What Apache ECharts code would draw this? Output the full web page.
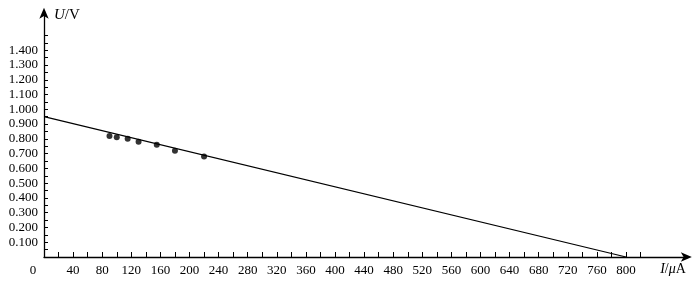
<!DOCTYPE html>
<html><head><meta charset="utf-8">
<script src="https://cdn.jsdelivr.net/npm/echarts@6/dist/echarts.min.js"></script>
<style>html,body{margin:0;padding:0;background:#fff}#c{width:700px;height:291px}</style>
</head><body><div id="c"></div>
<script>
// ---- data ----
const currents = [90, 100, 115, 130, 155, 180, 220];          // I / μA
const voltages = [0.82, 0.81, 0.80, 0.78, 0.76, 0.72, 0.68];  // U / V
const fitCurrents = [0, 800];
const fitVoltages = [0.95, 0];
const xTickLabels = [0, 40, 80, 120, 160, 200, 240, 280, 320, 360, 400, 440, 480, 520, 560, 600, 640, 680, 720, 760, 800];
const yTickLabels = ['0.100','0.200','0.300','0.400','0.500','0.600','0.700','0.800','0.900','1.000','1.100','1.200','1.300','1.400'];

// ---- layout ----
const L = 44, AXY = 257, W = 700, H = 291;
const PX = 582 / 800;     // px per μA
const PY = 147.7;         // px per V
const X0MAX = 885, Y0MAX = 1.66;   // axis-line extent (with arrows)
const X1MAX = 820, Y1MAX = 1.5;    // tick extent
const font = 'Liberation Serif';

const chart = echarts.init(document.getElementById('c'), null, {renderer: 'canvas'});
const scatterData = currents.map((c, i) => [c, voltages[i]]);
const lineData = fitCurrents.map((c, i) => [c, fitVoltages[i]]);

chart.setOption({
  backgroundColor: '#fff',
  animation: false,
  grid: [
    {left: L, bottom: H - AXY, width: X0MAX * PX, height: Y0MAX * PY},
    {left: L, bottom: H - AXY, width: X1MAX * PX, height: Y1MAX * PY}
  ],
  xAxis: [
    {
      type: 'value', gridIndex: 0, min: 0, max: X0MAX, interval: 20,
      axisLine: {show: true, symbol: ['none', 'arrow'], symbolSize: [7, 11], symbolOffset: [0, 4],
        lineStyle: {color: '#000', width: 1.3}},
      axisTick: {show: false}, splitLine: {show: false},
      axisLabel: {
        color: '#000', fontFamily: font, fontSize: 13, margin: 7, showMaxLabel: false,
        formatter: v => {
          const r = Math.round(v);
          if (!xTickLabels.includes(r) || Math.abs(v - r) > 1e-6) return '';
          return r === 0 ? '{z|0}' : String(r);
        },
        rich: {z: {fontFamily: font, fontSize: 13, color: '#000', padding: [0, 22, 0, 0]}}
      },
      name: '{i|I}/{i|μ}A', nameLocation: 'end', nameGap: -2,
      nameTextStyle: {align: 'right', verticalAlign: 'top', padding: [5, 0, 0, 0],
        fontFamily: font, fontSize: 14, color: '#000',
        rich: {i: {fontFamily: font, fontStyle: 'italic', fontSize: 14, color: '#000'}}}
    },
    {
      type: 'value', gridIndex: 1, min: 0, max: X1MAX, interval: 20,
      axisLine: {show: false}, splitLine: {show: false}, axisLabel: {show: false},
      axisTick: {show: true, inside: true, length: 5, lineStyle: {color: '#000', width: 1}}
    }
  ],
  yAxis: [
    {
      type: 'value', gridIndex: 0, min: 0, max: Y0MAX, interval: 0.05,
      axisLine: {show: true, symbol: ['none', 'arrow'], symbolSize: [7, 11], symbolOffset: [0, 4],
        lineStyle: {color: '#000', width: 1.3}},
      axisTick: {show: false}, splitLine: {show: false},
      axisLabel: {
        color: '#000', fontFamily: font, fontSize: 13, margin: 6, showMaxLabel: false,
        formatter: v => {
          const s = (Math.round(v * 1000) / 1000).toFixed(3);
          return yTickLabels.includes(s) ? s : '';
        }
      },
      name: '{i|U}/V', nameLocation: 'end', nameGap: -3,
      nameTextStyle: {align: 'left', verticalAlign: 'middle', padding: [0, 0, 0, 10],
        fontFamily: font, fontSize: 15, color: '#000',
        rich: {i: {fontFamily: font, fontStyle: 'italic', fontSize: 15, color: '#000'}}}
    },
    {
      type: 'value', gridIndex: 1, min: 0, max: Y1MAX, interval: 0.05,
      axisLine: {show: false}, splitLine: {show: false}, axisLabel: {show: false},
      axisTick: {show: true, inside: true, length: 4, lineStyle: {color: '#000', width: 1}}
    }
  ],
  series: [
    {
      type: 'line', xAxisIndex: 0, yAxisIndex: 0, data: lineData,
      showSymbol: false, symbol: 'none', lineStyle: {color: '#000', width: 1.2}, z: 2
    },
    {
      type: 'scatter', xAxisIndex: 0, yAxisIndex: 0, data: scatterData,
      symbol: 'circle', symbolSize: 6, itemStyle: {color: '#000'}, z: 3
    }
  ]
});
</script></body></html>
